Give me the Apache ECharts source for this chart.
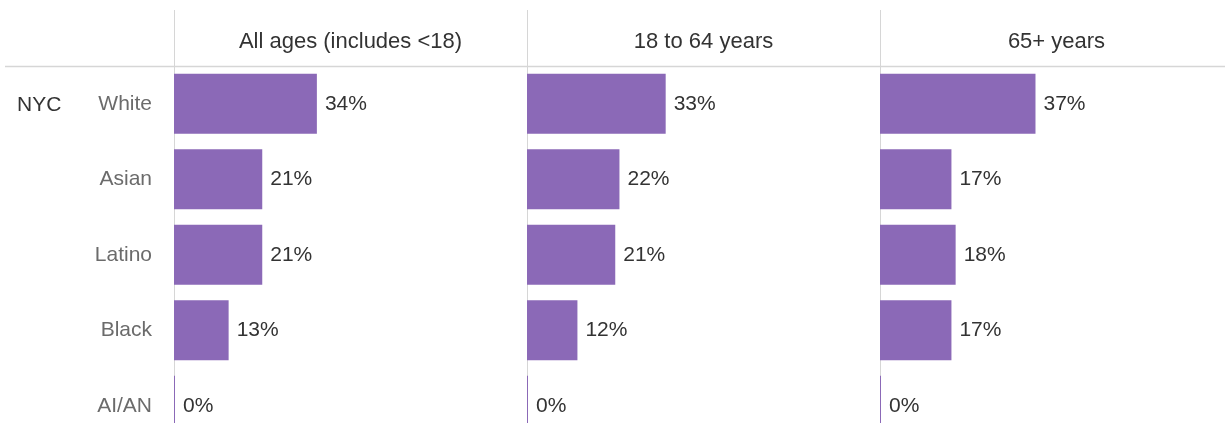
<!DOCTYPE html>
<html>
<head>
<meta charset="utf-8">
<title>NYC share by race/ethnicity and age group</title>
<script src="https://cdn.jsdelivr.net/npm/echarts@6/dist/echarts.min.js"></script>
<style>
  html, body { margin: 0; padding: 0; background: #fff; }
  #chart { width: 1225px; height: 423px; }
</style>
</head>
<body>
<div id="chart"></div>
<script>
// Data
const regionLabel = 'NYC';
const categories = ['White', 'Asian', 'Latino', 'Black', 'AI/AN'];
const panelTitles = ['All ages (includes <18)', '18 to 64 years', '65+ years'];
const allAges = [34, 21, 21, 13, 0];
const age18to64 = [33, 22, 21, 12, 0];
const age65plus = [37, 17, 18, 17, 0];
const panelValues = [allAges, age18to64, age65plus];

// Layout
const FONT = '"Liberation Sans", Arial, Helvetica, sans-serif';
const panelLeft = 174;
const panelWidth = 353;
const gridTop = 66;
const bandHeight = 75.5;
const gridHeight = bandHeight * categories.length;
const axisMax = 84;
const barColor = '#8b69b7';
const ruleColor = '#d6d6d6';

const chart = echarts.init(document.getElementById('chart'), null, { renderer: 'canvas' });

const grids = [], xAxes = [], yAxes = [], series = [], titles = [], graphics = [];

panelValues.forEach((values, i) => {
  const left = panelLeft + i * panelWidth;
  // the last row runs past the bottom edge, so the grid is not clamped to the container
  grids.push({
    left: left, top: gridTop, width: panelWidth, height: gridHeight,
    containLabel: false, outerBoundsMode: 'none'
  });
  xAxes.push({
    gridIndex: i, type: 'value', min: 0, max: axisMax,
    axisLine: { show: false }, axisTick: { show: false },
    axisLabel: { show: false }, splitLine: { show: false }
  });
  yAxes.push({
    gridIndex: i, type: 'category', data: categories, inverse: true,
    axisLine: { show: false }, axisTick: { show: false }, splitLine: { show: false },
    axisLabel: {
      show: i === 0, margin: 22, fontSize: 21, color: '#6b6b6b', fontFamily: FONT
    }
  });
  series.push({
    type: 'bar', xAxisIndex: i, yAxisIndex: i, data: values,
    barCategoryGap: '20.5%', barMinHeight: 1, z: 3,
    itemStyle: { color: barColor },
    label: {
      show: true, position: 'right', distance: 8,
      formatter: '{c}%', fontSize: 21, color: '#333', fontFamily: FONT
    }
  });
  titles.push({
    text: panelTitles[i],
    left: left + panelWidth / 2, top: 31, textAlign: 'center', padding: 0,
    textStyle: { fontSize: 22, fontWeight: 'normal', color: '#333', fontFamily: FONT }
  });
  // vertical divider at the start of each panel
  graphics.push({
    type: 'line', z: 1,
    shape: { x1: left + 0.5, y1: 10, x2: left + 0.5, y2: 423 },
    style: { stroke: ruleColor, lineWidth: 1 }
  });
});

// header rule
graphics.push({
  type: 'line', z: 1,
  shape: { x1: 5, y1: gridTop + 0.5, x2: 1225, y2: gridTop + 0.5 },
  style: { stroke: ruleColor, lineWidth: 1.5 }
});
// region label beside the first row
graphics.push({
  type: 'text', z: 5, left: 17, top: gridTop + bandHeight / 2 - 9,
  style: { text: regionLabel, fill: '#333', font: '21px ' + FONT }
});

chart.setOption({
  backgroundColor: '#fff',
  animation: false,
  title: titles,
  grid: grids,
  xAxis: xAxes,
  yAxis: yAxes,
  series: series,
  graphic: graphics
});
</script>
</body>
</html>
